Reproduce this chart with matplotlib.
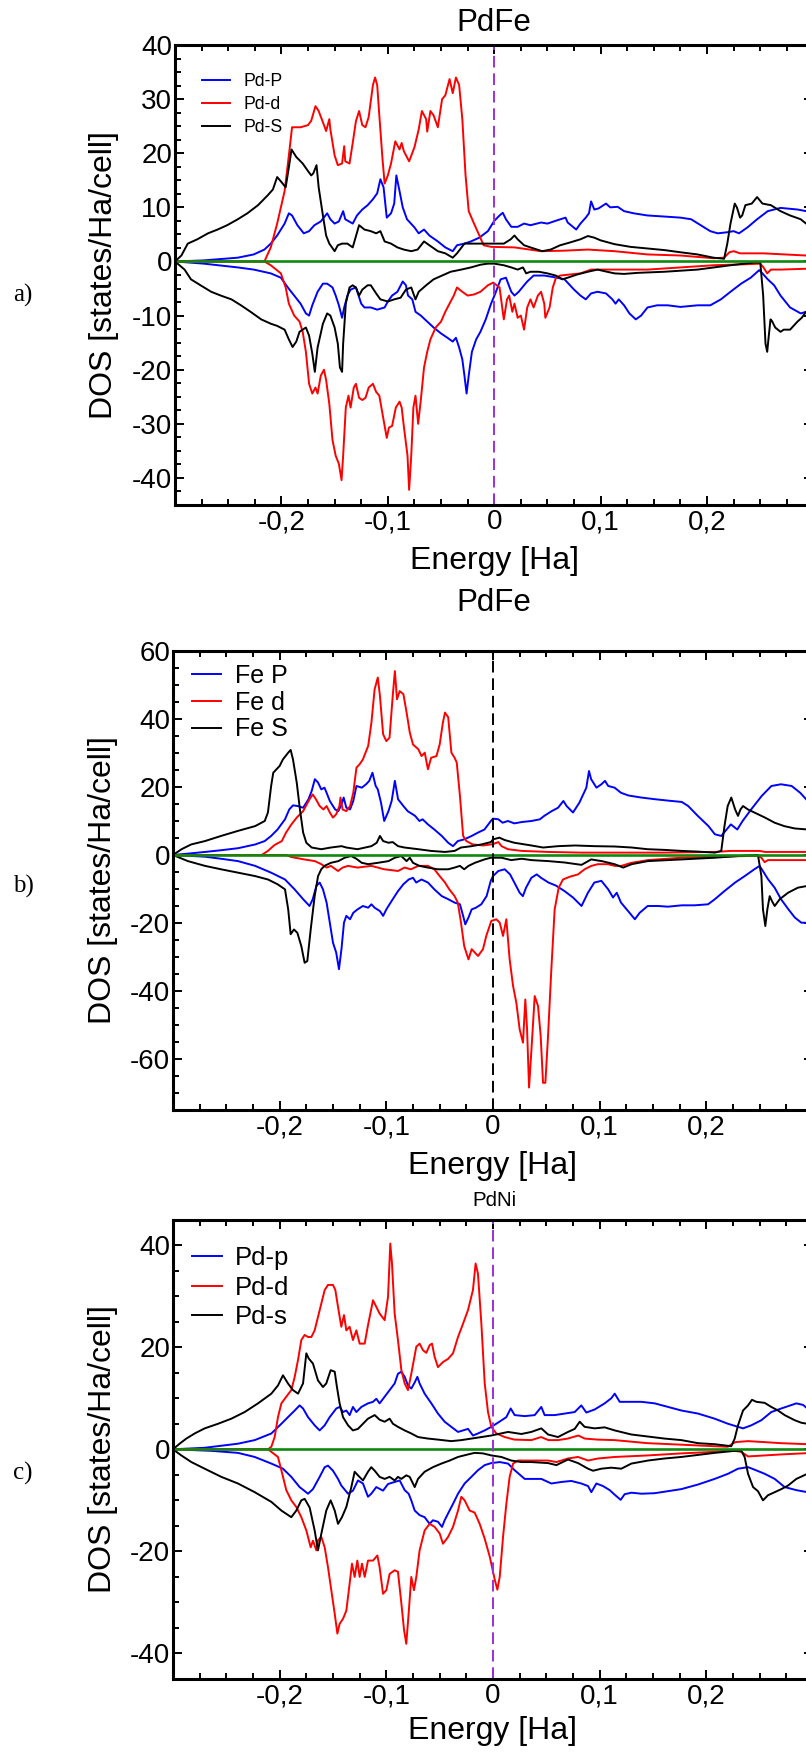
import matplotlib
matplotlib.use("Agg")
import matplotlib.pyplot as plt
from matplotlib.ticker import MultipleLocator

plt.rcParams['font.family'] = ['Liberation Sans', 'DejaVu Sans']

# ---- energy axis (Ha) and tick labels with decimal comma ----
e_fermi = 0.0
x_ticks = [-0.2, -0.1, 0.0, 0.1, 0.2]
x_ticklabels = ['-0,2', '-0,1', '0', '0,1', '0,2']

# ---- a) PdFe, Pd projected DOS (energy, DOS) ----
a_p_up = [(-0.300, 0), (-0.273, 0.2), (-0.241, 0.7), (-0.226, 1.3), (-0.216, 2.2), (-0.210, 3.3), (-0.204, 4.8),
          (-0.197, 7), (-0.193, 8.9), (-0.190, 8.5), (-0.185, 6.7), (-0.179, 5.2), (-0.174, 5.6), (-0.169, 6.7),
          (-0.163, 7.4), (-0.157, 8.9), (-0.154, 7.8), (-0.150, 7), (-0.146, 7.4), (-0.142, 9.3), (-0.140, 7.8),
          (-0.133, 7), (-0.129, 8.5), (-0.124, 9.6), (-0.119, 10.4), (-0.114, 11.5), (-0.110, 12.6), (-0.107, 15.2),
          (-0.104, 13.7), (-0.101, 8.1), (-0.097, 8.9), (-0.094, 10.7), (-0.092, 15.9), (-0.089, 13), (-0.086, 10),
          (-0.082, 7.8), (-0.075, 6.3), (-0.071, 5.2), (-0.066, 5.9), (-0.061, 4.8), (-0.053, 3.7), (-0.046, 2.6),
          (-0.039, 1.9), (-0.035, 3), (-0.028, 3.3), (-0.022, 3.7), (-0.014, 4.4), (-0.006, 5.6), (0.000, 7.5),
          (0.005, 8.5), (0.008, 9), (0.011, 7.8), (0.016, 6.4), (0.022, 6.4), (0.028, 7), (0.034, 6.7), (0.044, 7.2),
          (0.050, 7), (0.059, 7.6), (0.067, 8.1), (0.069, 7.2), (0.077, 5.9), (0.081, 7), (0.086, 8.1), (0.089, 8.9),
          (0.091, 11.1), (0.094, 9.6), (0.098, 9.8), (0.105, 10.7), (0.109, 10), (0.116, 10.1), (0.122, 9.3),
          (0.131, 8.9), (0.144, 8.5), (0.160, 8.3), (0.175, 8.1), (0.185, 7.8), (0.194, 6.7), (0.203, 5.6),
          (0.210, 5.2), (0.219, 5.4), (0.225, 5.6), (0.230, 5.2), (0.238, 6.3), (0.247, 7.8), (0.257, 9.3),
          (0.269, 9.9), (0.285, 9.6), (0.293, 9.3), (0.300, 9.0)]
a_p_dn = [(-0.300, 0), (-0.273, -0.4), (-0.241, -1.1), (-0.226, -1.5), (-0.210, -2.2), (-0.2005, -3), (-0.194, -4.8),
          (-0.188, -6.3), (-0.182, -7.8), (-0.177, -9.6), (-0.174, -10), (-0.171, -8.1), (-0.166, -5.6),
          (-0.161, -4.1), (-0.157, -4.1), (-0.152, -4.8), (-0.149, -6.3), (-0.146, -8.1), (-0.143, -10.4),
          (-0.141, -8.5), (-0.138, -6.3), (-0.135, -5.2), (-0.130, -4.8), (-0.125, -7.8), (-0.122, -8.5),
          (-0.116, -8.5), (-0.110, -8.9), (-0.103, -8.5), (-0.100, -7.4), (-0.096, -6.3), (-0.091, -5.6),
          (-0.086, -3.7), (-0.083, -4.4), (-0.081, -6.3), (-0.077, -7), (-0.074, -9.3), (-0.069, -10),
          (-0.063, -11.1), (-0.057, -12.2), (-0.050, -13.3), (-0.044, -14.1), (-0.039, -14.8), (-0.036, -14.1),
          (-0.033, -15.9), (-0.030, -18.1), (-0.028, -21.1), (-0.026, -24.4), (-0.024, -21.1), (-0.021, -16.7),
          (-0.017, -14.4), (-0.013, -13), (-0.008, -10.7), (-0.003, -7.8), (0.001, -5.9), (0.006, -3.3),
          (0.011, -3), (0.016, -5.6), (0.019, -6.3), (0.023, -5.6), (0.028, -4.4), (0.031, -3.7), (0.037, -2.6),
          (0.047, -2.6), (0.059, -3), (0.066, -3.3), (0.075, -5.2), (0.081, -6.3), (0.086, -7), (0.091, -5.9),
          (0.097, -5.6), (0.105, -5.9), (0.111, -7), (0.114, -7.8), (0.117, -7.0), (0.122, -8.1), (0.127, -9.6),
          (0.133, -10.7), (0.138, -10), (0.144, -8.5), (0.153, -8.1), (0.163, -8.1), (0.175, -8.4), (0.191, -8.1),
          (0.203, -8.1), (0.213, -7), (0.222, -5.6), (0.232, -4.1), (0.241, -3), (0.249, -1.6), (0.252, -2.2),
          (0.257, -3.3), (0.263, -4.4), (0.269, -6.3), (0.278, -8.5), (0.288, -9.6), (0.293, -9.3), (0.300, -9.0)]
a_d_up = [(-0.300, 0), (-0.216, 0), (-0.210, 2.6), (-0.204, 7), (-0.197, 13), (-0.193, 19.6), (-0.190, 24.8),
          (-0.182, 24.8), (-0.175, 25.2), (-0.172, 26), (-0.168, 28.7), (-0.165, 27.8), (-0.160, 25.2),
          (-0.158, 24.1), (-0.155, 26.3), (-0.154, 24.4), (-0.150, 19.6), (-0.147, 17.8), (-0.143, 18.1),
          (-0.141, 21.3), (-0.140, 18.5), (-0.136, 18.1), (-0.133, 21.9), (-0.130, 25.9), (-0.127, 27.8),
          (-0.124, 25.2), (-0.121, 24.8), (-0.118, 26.7), (-0.114, 32.6), (-0.112, 34), (-0.110, 32.6),
          (-0.108, 27), (-0.105, 18.9), (-0.103, 14.4), (-0.100, 15.9), (-0.097, 18.1), (-0.093, 22.2),
          (-0.089, 20.7), (-0.087, 21.9), (-0.085, 20.4), (-0.080, 18.5), (-0.075, 21.1), (-0.071, 24.4),
          (-0.068, 27.8), (-0.064, 26.3), (-0.063, 24), (-0.060, 27.8), (-0.057, 27), (-0.053, 24.8), (-0.049, 30),
          (-0.046, 30.7), (-0.042, 33.7), (-0.039, 31.1), (-0.036, 34), (-0.033, 32.6), (-0.030, 26.3),
          (-0.027, 16), (-0.024, 9.3), (-0.019, 7), (-0.014, 4.8), (-0.010, 3), (-0.003, 2.7), (0.019, 2.6),
          (0.044, 1.9), (0.066, 2), (0.088, 2.2), (0.113, 1.9), (0.144, 1.3), (0.175, 1.1), (0.206, 0.6),
          (0.216, 0.7), (0.221, 1.7), (0.225, 1.9), (0.231, 1.5), (0.253, 1.5), (0.293, 1.1), (0.300, 1.1)]
a_d_dn = [(-0.300, 0), (-0.216, 0), (-0.210, -0.7), (-0.2005, -2.2), (-0.196, -4.8), (-0.193, -7.8), (-0.188, -10),
          (-0.183, -11.1), (-0.180, -13), (-0.177, -16.7), (-0.174, -22.6), (-0.171, -24.4), (-0.168, -23.3),
          (-0.166, -24.4), (-0.163, -21.1), (-0.160, -20), (-0.158, -21.9), (-0.155, -26.3), (-0.152, -33),
          (-0.149, -35.9), (-0.146, -37.4), (-0.1435, -40.4), (-0.142, -35.9), (-0.1395, -27), (-0.137, -24.8),
          (-0.135, -27), (-0.132, -23.3), (-0.130, -22.6), (-0.127, -25.2), (-0.124, -25.6), (-0.121, -25.2),
          (-0.118, -23.3), (-0.114, -22.6), (-0.111, -24.1), (-0.108, -24.8), (-0.103, -30.4), (-0.101, -32.6),
          (-0.099, -30.7), (-0.096, -30.4), (-0.0925, -27), (-0.089, -25.9), (-0.087, -27), (-0.085, -30.4),
          (-0.0815, -35.9), (-0.080, -42.2), (-0.078, -35.9), (-0.076, -27), (-0.074, -24.8), (-0.0715, -30),
          (-0.069, -25.6), (-0.066, -19.6), (-0.063, -16.7), (-0.060, -14.4), (-0.055, -12.2), (-0.050, -11.1),
          (-0.046, -9.3), (-0.041, -7.4), (-0.038, -6.3), (-0.035, -4.8), (-0.030, -5.6), (-0.025, -6.3),
          (-0.019, -6.1), (-0.013, -5.6), (-0.006, -4.4), (-0.001, -3.9), (0.005, -4.8), (0.008, -9.3),
          (0.009, -10.7), (0.012, -7), (0.014, -6.3), (0.017, -9.3), (0.019, -7.8), (0.022, -10.4), (0.025, -10),
          (0.028, -12.6), (0.031, -8.5), (0.034, -7), (0.037, -8.5), (0.041, -6.3), (0.044, -5.6), (0.047, -7.8),
          (0.048, -10.4), (0.052, -8.5), (0.055, -4.8), (0.058, -3), (0.062, -2.6), (0.081, -2.2), (0.091, -1.5),
          (0.144, -1.5), (0.175, -1.1), (0.206, -0.7), (0.238, -0.5), (0.250, -0.4), (0.253, -1.1),
          (0.2565, -2.2), (0.260, -1.5), (0.269, -1.5), (0.300, -1.3)]
a_s_up = [(-0.300, 0), (-0.294, 1.1), (-0.288, 3.3), (-0.279, 4.1), (-0.269, 5.2), (-0.260, 5.9), (-0.251, 6.7),
          (-0.241, 7.8), (-0.232, 8.9), (-0.222, 10.4), (-0.213, 12.2), (-0.208, 13.3), (-0.204, 15.6),
          (-0.2005, 14.8), (-0.196, 13.7), (-0.193, 17.4), (-0.1905, 20.7), (-0.186, 19.3), (-0.180, 18.1),
          (-0.175, 16.7), (-0.172, 15.9), (-0.170, 16.3), (-0.167, 17.8), (-0.165, 13.7), (-0.161, 8.5),
          (-0.158, 4.8), (-0.155, 3.3), (-0.150, 1.9), (-0.147, 3), (-0.143, 3.3), (-0.138, 3.3), (-0.133, 2.6),
          (-0.127, 6.7), (-0.122, 5.9), (-0.116, 5.6), (-0.111, 5.2), (-0.107, 5.6), (-0.103, 3.7), (-0.097, 3.3),
          (-0.091, 2.6), (-0.085, 2.2), (-0.078, 1.9), (-0.072, 2.2), (-0.066, 3.7), (-0.061, 3), (-0.053, 1.9),
          (-0.046, 1.5), (-0.039, 0.7), (-0.035, 1.5), (-0.028, 3.3), (-0.016, 3.3), (-0.003, 3.3), (0.009, 3.3),
          (0.0155, 4.1), (0.019, 4.8), (0.022, 4.1), (0.028, 3), (0.034, 2.6), (0.045, 1.9), (0.053, 2.2),
          (0.062, 3), (0.071, 3.5), (0.081, 4.1), (0.088, 4.7), (0.094, 4.4), (0.100, 3.9), (0.113, 3.2),
          (0.128, 2.7), (0.144, 2.4), (0.160, 2.1), (0.175, 1.7), (0.191, 1.3), (0.206, 0.7), (0.216, 0.5),
          (0.219, 3.3), (0.222, 7), (0.226, 10.7), (0.228, 10), (0.231, 8.1), (0.233, 8.5), (0.236, 10.4),
          (0.242, 10.7), (0.247, 11.9), (0.252, 10.7), (0.260, 10.4), (0.269, 9.3), (0.278, 8.5), (0.288, 7.8),
          (0.293, 7), (0.300, 6.6)]
a_s_dn = [(-0.300, 0), (-0.291, -1.5), (-0.285, -3.3), (-0.276, -4.4), (-0.266, -5.6), (-0.257, -6.3),
          (-0.247, -7), (-0.238, -8.1), (-0.229, -9.3), (-0.219, -10.7), (-0.210, -11.5), (-0.204, -11.9),
          (-0.197, -12.6), (-0.193, -14.4), (-0.1895, -15.8), (-0.186, -14.8), (-0.183, -13), (-0.180, -12.6),
          (-0.177, -12.2), (-0.174, -13.7), (-0.171, -17), (-0.1686, -20.4), (-0.166, -15.9), (-0.161, -11.5),
          (-0.157, -9.6), (-0.154, -10), (-0.150, -12.2), (-0.147, -15.2), (-0.145, -19.6), (-0.143, -20.4),
          (-0.142, -15.2), (-0.1395, -7.8), (-0.136, -4.8), (-0.133, -4.4), (-0.130, -4.8), (-0.127, -6.3),
          (-0.124, -5.2), (-0.119, -4.4), (-0.116, -4.4), (-0.111, -5.9), (-0.107, -7), (-0.100, -7.4),
          (-0.094, -7), (-0.088, -6.7), (-0.083, -5.2), (-0.078, -4.8), (-0.074, -7), (-0.071, -5.6),
          (-0.064, -4.4), (-0.057, -3.3), (-0.049, -2.6), (-0.041, -1.9), (-0.031, -1.5), (-0.022, -1.1),
          (-0.013, -0.6), (-0.006, -0.4), (0.000, -0.4), (0.009, -0.7), (0.016, -1.1), (0.022, -1.5),
          (0.027, -1.1), (0.030, -2.2), (0.034, -1.9), (0.042, -1.9), (0.050, -2.2), (0.0577, -2.6),
          (0.064, -3.3), (0.069, -3.0), (0.078, -2.4), (0.088, -1.9), (0.097, -1.5), (0.106, -1.9),
          (0.113, -2.2), (0.122, -2.3), (0.135, -2.1), (0.160, -1.9), (0.191, -1.5), (0.222, -0.7),
          (0.244, -0.2), (0.250, -0.2), (0.2527, -6.3), (0.2549, -15.2), (0.2565, -16.7), (0.258, -13.7),
          (0.2596, -10.7), (0.261, -11), (0.264, -12.2), (0.269, -13), (0.272, -12.6), (0.278, -12.6),
          (0.285, -11.1), (0.289, -10.4), (0.293, -9.3), (0.300, -8.5)]

# ---- b) PdFe, Fe projected DOS ----
b_p_up = [(-0.300, 0), (-0.286, 0.4), (-0.270, 0.9), (-0.255, 1.4), (-0.239, 2), (-0.223, 3.1), (-0.214, 4.1),
          (-0.208, 5.6), (-0.202, 7.5), (-0.195, 10.5), (-0.191, 13.4), (-0.1875, 14.6), (-0.183, 14.4),
          (-0.178, 13.9), (-0.173, 16.4), (-0.170, 18.8), (-0.167, 22.3), (-0.164, 21.3), (-0.161, 19.3),
          (-0.158, 19.8), (-0.156, 18.3), (-0.153, 15.9), (-0.148, 13.4), (-0.145, 12.9), (-0.142, 14.9),
          (-0.140, 16.9), (-0.1375, 13.9), (-0.134, 13.4), (-0.131, 15.9), (-0.128, 20.3), (-0.123, 19.8),
          (-0.119, 20.8), (-0.116, 21.8), (-0.113, 24.2), (-0.110, 20.3), (-0.108, 19.3), (-0.105, 15.4),
          (-0.102, 10), (-0.098, 12.9), (-0.095, 15.9), (-0.092, 21.8), (-0.089, 16.4), (-0.084, 14.4),
          (-0.080, 12.9), (-0.073, 11.5), (-0.069, 10), (-0.066, 10.5), (-0.061, 9), (-0.055, 7.5), (-0.048, 5.6),
          (-0.042, 3.6), (-0.0375, 2.6), (-0.033, 4.1), (-0.027, 4.6), (-0.020, 5.6), (-0.014, 6.6),
          (-0.008, 7.5), (-0.002, 10), (0.000, 10.7), (0.005, 10.5), (0.009, 9.5), (0.014, 10), (0.020, 9.3),
          (0.027, 9.7), (0.036, 10), (0.044, 10.5), (0.048, 11.5), (0.055, 12.9), (0.061, 13.9), (0.066, 15.9),
          (0.069, 14.4), (0.075, 12.5), (0.081, 15.4), (0.0875, 19.8), (0.090, 24.7), (0.092, 22.3),
          (0.097, 19.8), (0.1016, 20.8), (0.105, 21.8), (0.108, 20.3), (0.114, 19.8), (0.120, 18.3),
          (0.127, 17.5), (0.139, 16.9), (0.152, 16.4), (0.164, 16), (0.177, 15.6), (0.183, 14.4), (0.192, 11.5),
          (0.202, 8.5), (0.208, 6.1), (0.214, 5.6), (0.219, 7.5), (0.223, 9), (0.229, 7.5), (0.234, 10),
          (0.242, 13.4), (0.252, 17.4), (0.261, 20.3), (0.270, 20.8), (0.280, 20.3), (0.288, 18.3),
          (0.295, 15.9), (0.300, 14.5)]
b_p_dn = [(-0.300, 0), (-0.270, -0.5), (-0.255, -1.1), (-0.239, -1.8), (-0.223, -3.2), (-0.208, -5.2),
          (-0.195, -7.2), (-0.186, -10.1), (-0.178, -13), (-0.172, -15), (-0.169, -13), (-0.1656, -9.1),
          (-0.1625, -8.1), (-0.1594, -10.1), (-0.156, -14), (-0.153, -19.9), (-0.150, -25.8), (-0.147, -28.7),
          (-0.1444, -33.6), (-0.142, -27.5), (-0.1397, -19.9), (-0.1375, -17.9), (-0.134, -18.9), (-0.131, -17),
          (-0.127, -16), (-0.122, -15), (-0.117, -15.5), (-0.114, -14.5), (-0.111, -15.5), (-0.106, -16.5),
          (-0.103, -17.9), (-0.100, -16), (-0.095, -13.5), (-0.089, -10.6), (-0.084, -8.6), (-0.079, -7.2),
          (-0.075, -6.7), (-0.072, -8.1), (-0.067, -7.2), (-0.061, -8.1), (-0.055, -10.1), (-0.048, -12.1),
          (-0.042, -13), (-0.036, -14), (-0.031, -14.5), (-0.028, -17.9), (-0.026, -20.4), (-0.023, -18.4),
          (-0.020, -16), (-0.016, -15.5), (-0.011, -14.5), (-0.006, -12.1), (-0.002, -7.5), (0.000, -6.2),
          (0.005, -4.7), (0.011, -4.2), (0.016, -5.7), (0.020, -8.1), (0.025, -11.1), (0.028, -12.1),
          (0.031, -9.6), (0.036, -6.7), (0.041, -5.7), (0.045, -6.7), (0.052, -8.1), (0.059, -9), (0.067, -10.6),
          (0.075, -12.5), (0.083, -15), (0.089, -11.1), (0.095, -8.1), (0.1016, -7.6), (0.108, -10.1),
          (0.1125, -12.5), (0.116, -11.1), (0.120, -14), (0.128, -17), (0.133, -18.9), (0.1375, -17),
          (0.145, -15), (0.155, -15), (0.164, -15.2), (0.177, -14.8), (0.189, -14.8), (0.2016, -14.5),
          (0.208, -13), (0.217, -10.6), (0.227, -8.1), (0.236, -6.2), (0.245, -4.2), (0.250, -3.2),
          (0.253, -4.7), (0.258, -7.2), (0.264, -9.6), (0.270, -13), (0.277, -16), (0.283, -18.4),
          (0.289, -19.9), (0.300, -20)]
b_d_up = [(-0.300, 0), (-0.217, 0), (-0.211, 1.2), (-0.205, 2.9), (-0.198, 4.1), (-0.194, 6.6), (-0.189, 9),
          (-0.184, 11), (-0.178, 12.9), (-0.172, 16.4), (-0.169, 17.8), (-0.166, 16.4), (-0.1625, 14.4),
          (-0.159, 13.4), (-0.156, 14.4), (-0.153, 12.5), (-0.150, 11), (-0.147, 12), (-0.144, 14.4),
          (-0.143, 16.9), (-0.141, 13.4), (-0.1375, 12.9), (-0.134, 14.4), (-0.131, 18.3), (-0.128, 25.7),
          (-0.125, 26.7), (-0.122, 28.1), (-0.117, 32.1), (-0.114, 38.9), (-0.111, 48.7), (-0.108, 52.2),
          (-0.106, 46.8), (-0.103, 35.5), (-0.100, 33.5), (-0.097, 34.5), (-0.094, 46.8), (-0.092, 54.1),
          (-0.090, 45.8), (-0.0875, 48.2), (-0.084, 47.3), (-0.081, 41.9), (-0.078, 36), (-0.075, 32.5),
          (-0.070, 31.1), (-0.067, 29.1), (-0.064, 30.1), (-0.061, 25.2), (-0.058, 28.6), (-0.053, 29.1),
          (-0.050, 32.5), (-0.047, 38.9), (-0.045, 41.9), (-0.042, 40.5), (-0.039, 30.1), (-0.036, 28.6),
          (-0.034, 27.2), (-0.031, 17.4), (-0.028, 5.6), (-0.025, 4.1), (-0.019, 3.1), (-0.009, 2.8),
          (0.000, 3.2), (0.005, 3.8), (0.008, 2.6), (0.014, 1.7), (0.027, 1.2), (0.052, 0.9), (0.083, 0.7),
          (0.160, 0.7), (0.208, 0.9), (0.223, 1.2), (0.250, 1.2), (0.255, 0.9), (0.300, 0.9)]
b_d_dn = [(-0.300, 0), (-0.194, 0), (-0.189, -0.6), (-0.177, -1.3), (-0.167, -1.8), (-0.161, -2.7),
          (-0.156, -3.7), (-0.152, -3.2), (-0.1453, -4.7), (-0.141, -3.7), (-0.136, -3.2), (-0.127, -3.7),
          (-0.114, -3.2), (-0.102, -4.2), (-0.089, -4.7), (-0.083, -3.7), (-0.077, -4.2), (-0.070, -3.2),
          (-0.061, -3.2), (-0.055, -4.2), (-0.050, -6.2), (-0.045, -8.1), (-0.041, -10.1), (-0.036, -12.1),
          (-0.033, -14), (-0.030, -19.9), (-0.027, -26.8), (-0.023, -30.7), (-0.020, -27.7), (-0.017, -28.7),
          (-0.014, -29.7), (-0.0094, -27.7), (-0.0063, -23.8), (-0.0016, -19.4), (0.0031, -18.9),
          (0.0063, -19.9), (0.0094, -23.8), (0.0125, -18.9), (0.0156, -30.7), (0.0188, -38.5), (0.0219, -43.5),
          (0.025, -51.3), (0.0281, -55.2), (0.0303, -42.5), (0.0319, -51), (0.0338, -68.4), (0.0359, -58),
          (0.0391, -41.5), (0.0422, -44.4), (0.0447, -53.2), (0.0469, -67), (0.0491, -67), (0.0516, -53.2),
          (0.0547, -33.6), (0.0578, -16), (0.0616, -9.6), (0.0656, -7.2), (0.0719, -6.4), (0.0797, -5.7),
          (0.0859, -4.2), (0.0922, -3.2), (0.0984, -2.7), (0.1078, -2.7), (0.1141, -3.2), (0.1203, -3.2),
          (0.1297, -2.3), (0.1453, -1.5), (0.1766, -0.8), (0.2078, -0.5), (0.2391, -0.3), (0.2484, -0.3),
          (0.2516, -0.8), (0.2547, -2.1), (0.2578, -1.5), (0.270, -1.5), (0.300, -1.5)]
b_s_up = [(-0.300, 0), (-0.292, 1.7), (-0.283, 3.1), (-0.270, 4.1), (-0.255, 5.6), (-0.239, 7.1), (-0.223, 8.5),
          (-0.214, 10), (-0.211, 12.5), (-0.208, 20.3), (-0.206, 24.2), (-0.203, 25.2), (-0.200, 26.2),
          (-0.197, 28.1), (-0.192, 30.1), (-0.1897, 30.9), (-0.1875, 28.1), (-0.184, 21.3), (-0.181, 13.4),
          (-0.178, 6.6), (-0.175, 3.6), (-0.170, 2.2), (-0.161, 1.7), (-0.152, 2.2), (-0.142, 2.6),
          (-0.1375, 2.2), (-0.127, 1.7), (-0.114, 2.6), (-0.109, 3.6), (-0.106, 5.6), (-0.103, 4.1),
          (-0.098, 3.6), (-0.094, 3.8), (-0.089, 2.6), (-0.083, 2.2), (-0.070, 1.7), (-0.058, 1.2), (-0.045, 0.9),
          (-0.036, 1.2), (-0.030, 2.2), (-0.020, 2.6), (-0.011, 3.1), (-0.002, 3.8), (0.000, 4.6), (0.006, 5.1),
          (0.011, 4.4), (0.020, 3.6), (0.036, 2.8), (0.047, 2.2), (0.061, 2.6), (0.077, 2.8), (0.095, 2.6),
          (0.114, 2.5), (0.130, 2.2), (0.145, 1.7), (0.161, 1.5), (0.177, 1.2), (0.192, 1), (0.208, 0.7),
          (0.214, 1.2), (0.217, 8.5), (0.220, 14.4), (0.2234, 16.9), (0.227, 13.4), (0.2297, 11.5),
          (0.232, 13.4), (0.2344, 14.4), (0.239, 13.4), (0.245, 12.5), (0.255, 11), (0.264, 9.5), (0.273, 8.5),
          (0.283, 7.8), (0.295, 7.5), (0.300, 7.4)]
b_s_dn = [(-0.300, 0), (-0.286, -1.8), (-0.270, -3.2), (-0.255, -4.2), (-0.239, -5.2), (-0.223, -6.2),
          (-0.211, -7.2), (-0.202, -8.6), (-0.195, -10.1), (-0.192, -16), (-0.1897, -23.3), (-0.1866, -21.9),
          (-0.1834, -22.9), (-0.1797, -26.8), (-0.1766, -31.7), (-0.1741, -31.2), (-0.1709, -21.9),
          (-0.1672, -12.1), (-0.164, -6.2), (-0.161, -4.2), (-0.158, -3.2), (-0.152, -2.3), (-0.145, -1.8),
          (-0.139, -0.8), (-0.133, -0.3), (-0.1281, -1.1), (-0.123, -2.3), (-0.117, -2.7), (-0.108, -2.3),
          (-0.098, -1.8), (-0.092, -0.8), (-0.086, -0.3), (-0.081, -1.8), (-0.078, -0.8), (-0.075, -2.3),
          (-0.069, -3.2), (-0.061, -3.7), (-0.052, -4.2), (-0.042, -4.2), (-0.036, -3.7), (-0.031, -3.2),
          (-0.027, -4.2), (-0.023, -3.2), (-0.017, -2.3), (-0.008, -1.3), (-0.002, -0.8), (0.008, -0.8),
          (0.017, -1.5), (0.027, -1.1), (0.036, -1.5), (0.052, -1.8), (0.067, -2.2), (0.083, -2.9),
          (0.092, -1.3), (0.102, -1.8), (0.114, -2.7), (0.122, -3.7), (0.130, -2.7), (0.145, -1.8),
          (0.177, -1.3), (0.208, -0.8), (0.239, -0.1), (0.2484, 0), (0.2516, -6.2), (0.2531, -16),
          (0.2553, -20.9), (0.2572, -16), (0.2594, -12.1), (0.2616, -13.6), (0.2641, -15), (0.2688, -13),
          (0.2766, -11.1), (0.2859, -9.6), (0.2947, -9.1), (0.300, -8.9)]

# ---- c) PdNi, Pd projected DOS ----
c_p_up = [(-0.300, 0), (-0.2703, 0.3), (-0.2391, 1.1), (-0.2234, 1.8), (-0.2078, 3.1), (-0.1984, 5),
          (-0.1922, 6.3), (-0.1859, 7.6), (-0.1813, 8.6), (-0.1781, 8), (-0.1734, 6.3), (-0.1672, 4.7),
          (-0.1625, 3.7), (-0.1578, 4.7), (-0.1531, 6.3), (-0.1469, 8), (-0.1438, 8.3), (-0.1406, 7.3),
          (-0.1375, 7.6), (-0.1344, 6.7), (-0.1313, 8.3), (-0.1281, 7.3), (-0.1234, 8.3), (-0.1172, 9),
          (-0.1125, 9.3), (-0.1094, 9.9), (-0.1063, 9), (-0.1016, 10.3), (-0.0969, 11.6), (-0.0922, 12.9),
          (-0.0891, 14.8), (-0.0859, 15.2), (-0.0828, 14.2), (-0.0797, 12.5), (-0.0766, 11.9), (-0.0734, 13.1),
          (-0.0709, 14.2), (-0.0688, 12.9), (-0.0641, 10.9), (-0.0578, 9), (-0.0516, 7), (-0.0453, 5.4),
          (-0.0391, 4.4), (-0.0328, 3.4), (-0.0281, 3.7), (-0.0234, 4), (-0.0188, 2.7), (-0.0141, 3.1),
          (-0.0078, 3.7), (-0.0016, 4.4), (0.003, 5), (0.006, 5.4), (0.0125, 6.3), (0.0166, 8), (0.0203, 6.7),
          (0.0297, 6.5), (0.0391, 6.7), (0.0453, 8.3), (0.0484, 6.7), (0.0578, 6.7), (0.0672, 7), (0.0766, 7.3),
          (0.0828, 8.6), (0.0875, 7.2), (0.0953, 7.8), (0.1047, 9), (0.1109, 10), (0.1141, 10.9),
          (0.1188, 9.3), (0.1266, 9.3), (0.1391, 9.3), (0.1516, 9), (0.1641, 8.3), (0.1766, 7.6), (0.1922, 7),
          (0.2078, 6), (0.2203, 5), (0.2344, 4.1), (0.2422, 4.7), (0.2516, 5.7), (0.2609, 7.3), (0.2703, 8),
          (0.2844, 9), (0.2906, 8.7), (0.2947, 8), (0.300, 7.8)]
c_p_dn = [(-0.300, 0), (-0.2641, -0.3), (-0.2391, -0.7), (-0.2234, -1.5), (-0.2078, -2.8), (-0.1969, -3.8),
          (-0.1891, -5.4), (-0.1813, -7.4), (-0.1734, -8.7), (-0.1688, -7.8), (-0.1625, -5.4), (-0.1578, -3.5),
          (-0.1547, -3.2), (-0.15, -4.2), (-0.1453, -5.8), (-0.1422, -7.1), (-0.1359, -8.7), (-0.1313, -8.1),
          (-0.1266, -6.1), (-0.1219, -6.7), (-0.1172, -9.3), (-0.1141, -8.7), (-0.1094, -7.4), (-0.1031, -8.1),
          (-0.0984, -6.8), (-0.0922, -6.4), (-0.0875, -6.1), (-0.0828, -8), (-0.0791, -8.7), (-0.0766, -10),
          (-0.0734, -12), (-0.0688, -12.9), (-0.0641, -13.3), (-0.0594, -14.6), (-0.0563, -13.9),
          (-0.0516, -14.2), (-0.0478, -15.2), (-0.0453, -13.9), (-0.0422, -12.6), (-0.0375, -10.7),
          (-0.0328, -8.7), (-0.0266, -6.7), (-0.0203, -5.4), (-0.0141, -4.1), (-0.0078, -3.1), (-0.0016, -2.7),
          (0.0063, -2.5), (0.0141, -2.8), (0.0203, -4.1), (0.0297, -5.8), (0.0359, -5.8), (0.0453, -5.8),
          (0.0547, -6.7), (0.0641, -6.4), (0.0734, -6.2), (0.0828, -6.7), (0.0891, -7.2), (0.0922, -8.4),
          (0.0969, -6.7), (0.1031, -7.2), (0.1094, -8), (0.1141, -8.9), (0.1197, -9.9), (0.1234, -8.8),
          (0.1297, -8.5), (0.1391, -8.7), (0.1516, -8.6), (0.1641, -8.2), (0.1766, -7.8), (0.1922, -6.9),
          (0.2078, -5.8), (0.2203, -4.8), (0.2297, -3.8), (0.2391, -3.5), (0.2453, -4), (0.2547, -4.8),
          (0.2641, -5.8), (0.2734, -7.4), (0.2844, -8), (0.2947, -8.4), (0.300, -8.5)]
c_d_up = [(-0.300, 0), (-0.2109, 0), (-0.2078, 0.5), (-0.2047, 2.4), (-0.2016, 6.3), (-0.1984, 9),
          (-0.1938, 10.3), (-0.1891, 11.6), (-0.1859, 14.2), (-0.1828, 17.5), (-0.1797, 21.4), (-0.1766, 22.4),
          (-0.1734, 22), (-0.1703, 22), (-0.1672, 23.3), (-0.1641, 25.9), (-0.1609, 28.6), (-0.1578, 31.2),
          (-0.1547, 32.2), (-0.15, 32.2), (-0.1478, 31.2), (-0.1453, 27.9), (-0.1422, 24), (-0.1397, 26.3),
          (-0.1375, 23.3), (-0.1344, 24), (-0.1313, 21.4), (-0.1281, 23.3), (-0.125, 20.7), (-0.1203, 20.7),
          (-0.1172, 24.3), (-0.1125, 29.2), (-0.1094, 27.9), (-0.1063, 26.6), (-0.1016, 25.3), (-0.0984, 29.9),
          (-0.0963, 40.3), (-0.0947, 36.4), (-0.0922, 26.6), (-0.0891, 21.4), (-0.0859, 15.5), (-0.0828, 12.9),
          (-0.0797, 11.6), (-0.0766, 14.8), (-0.0719, 20.1), (-0.0688, 20.7), (-0.0656, 19.4), (-0.0625, 18.9),
          (-0.0594, 20.4), (-0.0572, 20.7), (-0.0547, 18.1), (-0.0516, 16.1), (-0.0469, 17.1), (-0.0422, 17.7),
          (-0.0375, 18.8), (-0.0328, 22), (-0.0281, 24.6), (-0.0234, 27.3), (-0.0188, 31.2), (-0.0163, 36.4),
          (-0.0141, 34.4), (-0.0109, 24.6), (-0.0078, 13), (-0.0047, 7.3), (-0.0016, 4.4), (0.0031, 3.1),
          (0.011, 2.4), (0.020, 1.9), (0.036, 1.8), (0.045, 2.4), (0.052, 1.8), (0.061, 1.8), (0.070, 2.1),
          (0.080, 2.7), (0.086, 2.1), (0.098, 1.9), (0.114, 1.8), (0.145, 1.2), (0.177, 0.9), (0.208, 0.6),
          (0.220, 0.5), (0.227, 1.4), (0.239, 1.6), (0.255, 1.4), (0.270, 1.2), (0.295, 1), (0.300, 1)]
c_d_dn = [(-0.300, 0), (-0.2109, 0), (-0.2078, -0.5), (-0.2016, -1.5), (-0.1984, -4.1), (-0.1938, -8),
          (-0.1891, -10), (-0.1844, -11.3), (-0.1797, -13.3), (-0.175, -15.9), (-0.1709, -19.2),
          (-0.1688, -17.9), (-0.1656, -19.8), (-0.1641, -17.8), (-0.1609, -17.2), (-0.1578, -19.2),
          (-0.1547, -23.1), (-0.1516, -27.6), (-0.1484, -32.2), (-0.1459, -36.1), (-0.1438, -34.2),
          (-0.1406, -33.2), (-0.1375, -31.6), (-0.1344, -26.3), (-0.1322, -22.4), (-0.1297, -25),
          (-0.1272, -21.8), (-0.125, -25), (-0.1228, -22.4), (-0.1203, -25), (-0.1172, -21.8), (-0.1125, -21.8),
          (-0.1084, -20.8), (-0.1063, -23.1), (-0.1031, -28.3), (-0.1, -27.6), (-0.0969, -24.4),
          (-0.0922, -23.7), (-0.0891, -24), (-0.0859, -30.2), (-0.0834, -35.4), (-0.0813, -38.1),
          (-0.0791, -32.2), (-0.0766, -25), (-0.0741, -27.6), (-0.0719, -25), (-0.0688, -19.8), (-0.0641, -15.9),
          (-0.0594, -14.6), (-0.0547, -15.2), (-0.05, -16.5), (-0.0469, -18.5), (-0.0422, -17.2),
          (-0.0375, -15.2), (-0.0328, -12), (-0.0297, -9.3), (-0.0266, -10), (-0.0219, -12), (-0.0172, -12.4),
          (-0.0125, -14.6), (-0.0078, -17.5), (-0.0031, -21), (0.0016, -25.5), (0.0041, -27.5), (0.0063, -25),
          (0.0094, -17.2), (0.0125, -10.7), (0.0156, -5.4), (0.0188, -2.8), (0.0234, -2.2), (0.0516, -2.2),
          (0.0594, -2.5), (0.0703, -1.8), (0.0797, -1.5), (0.0891, -2.2), (0.0984, -1.8), (0.1141, -1.5),
          (0.1453, -1.2), (0.1766, -0.8), (0.2078, -0.5), (0.2234, -0.2), (0.2328, -0.5), (0.2391, -1.4),
          (0.2547, -1.2), (0.2703, -1), (0.300, -0.7)]
c_s_up = [(-0.300, 0), (-0.2938, 1.1), (-0.2875, 2.1), (-0.2797, 3.1), (-0.2703, 4.1), (-0.2578, 5),
          (-0.2453, 6), (-0.2328, 7.3), (-0.2203, 9), (-0.2078, 10.9), (-0.2016, 12.5), (-0.1969, 14.5),
          (-0.1922, 12.9), (-0.1875, 11.6), (-0.1828, 10.9), (-0.1781, 12.9), (-0.175, 18.8), (-0.1728, 17.8),
          (-0.1688, 16.8), (-0.1641, 13.5), (-0.1594, 12.2), (-0.1563, 12.9), (-0.1522, 15.5), (-0.1484, 15.2),
          (-0.1463, 12.2), (-0.1438, 9), (-0.1406, 6.3), (-0.1359, 4.7), (-0.1313, 3.7), (-0.1266, 4),
          (-0.1219, 5), (-0.1172, 6), (-0.1109, 6.7), (-0.1063, 5.8), (-0.1016, 5.4), (-0.0969, 6),
          (-0.0938, 5), (-0.0891, 4.4), (-0.0828, 3.7), (-0.0766, 3.1), (-0.0703, 2.4), (-0.0609, 2.1),
          (-0.0516, 1.9), (-0.0391, 1.6), (-0.0297, 1.8), (-0.0203, 2.1), (-0.0109, 2.4), (-0.0016, 2.7),
          (0.0141, 3.4), (0.0266, 3), (0.0359, 3.4), (0.0453, 4.1), (0.0516, 2.9), (0.0609, 2.4), (0.0703, 3.4),
          (0.0766, 4), (0.0813, 5.4), (0.0859, 4.4), (0.0953, 4.1), (0.1047, 4.3), (0.1141, 3.7), (0.1297, 2.9),
          (0.1453, 2.5), (0.1609, 2.1), (0.1766, 1.8), (0.1922, 1.2), (0.2078, 1), (0.2234, 0.6), (0.2266, 2.1),
          (0.2297, 4.7), (0.2344, 7.6), (0.2391, 8.6), (0.2428, 9.7), (0.2469, 9.3), (0.2547, 9.1),
          (0.2609, 8.3), (0.2672, 7.6), (0.2734, 6.7), (0.2828, 5.7), (0.2891, 5.2), (0.2947, 5), (0.300, 4.8)]
c_s_dn = [(-0.300, 0), (-0.2922, -1.2), (-0.2828, -2.5), (-0.2703, -3.8), (-0.2547, -5.4), (-0.2391, -6.7),
          (-0.2234, -8.4), (-0.2078, -10.3), (-0.1984, -12), (-0.1891, -13.3), (-0.1844, -12), (-0.1797, -10),
          (-0.1766, -9.7), (-0.1719, -11.4), (-0.1672, -15.9), (-0.1641, -19.8), (-0.1609, -16.5),
          (-0.1563, -12), (-0.1522, -10), (-0.1484, -12), (-0.1453, -14.6), (-0.1416, -13.3), (-0.1375, -11.3),
          (-0.1328, -7.4), (-0.1297, -4.4), (-0.1266, -5.1), (-0.1219, -6.1), (-0.1172, -4.4), (-0.1141, -3.5),
          (-0.1109, -4.2), (-0.1063, -5.4), (-0.1016, -5.8), (-0.0969, -5.4), (-0.0922, -6.1), (-0.0891, -5.4),
          (-0.0859, -5.8), (-0.0813, -5.1), (-0.0781, -5.4), (-0.0734, -7.4), (-0.0703, -5.8), (-0.0641, -4.4),
          (-0.0563, -3.5), (-0.0484, -2.8), (-0.0406, -2.2), (-0.0328, -1.5), (-0.0234, -1), (-0.0172, -0.7),
          (-0.0094, -0.8), (-0.0016, -1.2), (0.0078, -1.5), (0.0172, -2.2), (0.0266, -2.5), (0.0359, -2.5),
          (0.0516, -2.7), (0.0594, -3.1), (0.0703, -2), (0.0797, -2.7), (0.0891, -3.8), (0.0938, -4.2),
          (0.1016, -3.8), (0.1109, -3.6), (0.1203, -3.8), (0.1297, -2.8), (0.1453, -2.2), (0.1609, -1.8),
          (0.1766, -1.5), (0.1922, -1.1), (0.2078, -0.7), (0.2266, -0.3), (0.2328, -0.3), (0.2359, -1.5),
          (0.2391, -4.8), (0.2438, -7.4), (0.2484, -8.2), (0.2531, -10), (0.2578, -9), (0.2641, -8.4),
          (0.2703, -7.8), (0.2766, -7.1), (0.2844, -5.8), (0.2947, -4.8), (0.300, -4.5)]

a_labels = ['Pd-P', 'Pd-d', 'Pd-S']
b_labels = ['Fe P', 'Fe d', 'Fe S']
c_labels = ['Pd-p', 'Pd-d', 'Pd-s']

BLUE, RED, BLACK = '#0000ff', '#ff0000', '#000000'
GREEN = '#0f8a0f'
PURPLE = '#9b30d9'

fig = plt.figure(figsize=(8.06, 17.55), dpi=100)
W, H = 806.0, 1755.0


def make_axes(left, top, right, bottom):
    # pixel box -> figure fraction
    return fig.add_axes([left / W, 1 - bottom / H, (right - left) / W, (bottom - top) / H])


def draw_panel(ax, curves, labels, ylim, yticks, yminor, fermi_color, leg):
    for (up, dn), col, lab in zip(curves, [BLUE, RED, BLACK], labels):
        e, v = zip(*up)
        ax.plot(e, v, color=col, lw=1.4, label=lab)
        e, v = zip(*dn)
        ax.plot(e, v, color=col, lw=1.4)
    ax.axhline(0, color=GREEN, lw=1.9)
    ax.axvline(e_fermi, color=fermi_color, lw=1.4, ls=(0, (6, 3)))

    ax.set_xlim(-0.3, 0.3)
    ax.set_ylim(*ylim)
    ax.set_xticks(x_ticks)
    ax.set_xticklabels(x_ticklabels)
    ax.set_yticks(yticks)
    ax.set_yticklabels([str(t) for t in yticks])
    ax.xaxis.set_minor_locator(MultipleLocator(0.025))
    ax.yaxis.set_minor_locator(MultipleLocator(yminor))
    ax.tick_params(which='both', direction='in', top=True, right=True, width=1.4, labelsize=20)
    ax.tick_params(which='major', length=6.5)
    ax.tick_params(which='minor', length=4.3)
    ax.tick_params(axis='x', pad=3)
    ax.tick_params(axis='y', pad=2)
    for s in ax.spines.values():
        s.set_linewidth(2.2)

    ax.set_xlabel('Energy [Ha]', fontsize=23)
    ax.set_ylabel('DOS [states/Ha/cell]', fontsize=23)
    ax.xaxis.label.set_va('center')
    ax.yaxis.label.set_va('center')

    fs, x0, y0, hl, tp, ls = leg
    ax.legend(loc='upper left', bbox_to_anchor=(x0, y0), borderaxespad=0, borderpad=0,
              frameon=False, fontsize=fs, handlelength=hl, handletextpad=tp, labelspacing=ls)


# a) PdFe, Pd states
ax_a = make_axes(175, 45, 813.5, 505)
draw_panel(ax_a, [(a_p_up, a_p_dn), (a_d_up, a_d_dn), (a_s_up, a_s_dn)], a_labels,
           (-45, 40), list(range(-40, 41, 10)), 2.5, PURPLE,
           (12.7, 0.042, 0.939, 1.6, 0.74, 0.33))
ax_a.xaxis.set_label_coords(0.5, -0.122)
ax_a.yaxis.set_label_coords(-0.111, 0.5)

# b) PdFe, Fe states
ax_b = make_axes(173, 651, 813, 1110)
draw_panel(ax_b, [(b_p_up, b_p_dn), (b_d_up, b_d_dn), (b_s_up, b_s_dn)], b_labels,
           (-75, 60), list(range(-60, 61, 20)), 5, 'black',
           (18, 0.030, 0.972, 1.16, 0.56, 0.11))
ax_b.xaxis.set_label_coords(0.5, -0.121)
ax_b.yaxis.set_label_coords(-0.109, 0.5)

# c) PdNi, Pd states
ax_c = make_axes(173, 1219.6, 813, 1679)
draw_panel(ax_c, [(c_p_up, c_p_dn), (c_d_up, c_d_dn), (c_s_up, c_s_dn)], c_labels,
           (-45, 45), list(range(-40, 41, 20)), 5, PURPLE,
           (18.5, 0.030, 0.942, 1.17, 0.5, 0.21))
ax_c.xaxis.set_label_coords(0.5, -0.113)
ax_c.yaxis.set_label_coords(-0.109, 0.5)

# titles and panel letters
fig.text(494 / W, 1 - 23 / H, 'PdFe', fontsize=22.5, ha='center', va='center')
fig.text(494 / W, 1 - 603 / H, 'PdFe', fontsize=22.5, ha='center', va='center')
fig.text(494 / W, 1 - 1200 / H, 'PdNi', fontsize=14.8, ha='center', va='center')
for lab, y in [('a)', 295), ('b)', 886), ('c)', 1473)]:
    fig.text(23 / W, 1 - y / H, lab, fontsize=18, ha='center', va='center', family='Liberation Serif')

fig.savefig('out.png', dpi=100)
